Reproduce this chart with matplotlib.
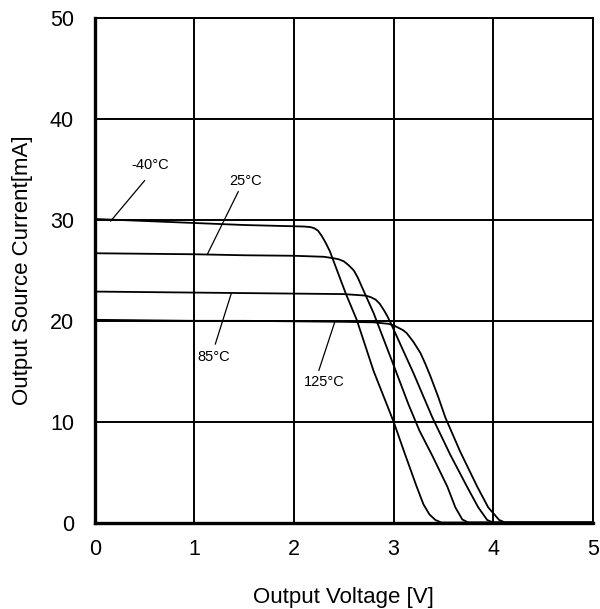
import matplotlib
matplotlib.use("Agg")
import matplotlib.pyplot as plt

plt.rcParams['font.family'] = ['Liberation Sans', 'DejaVu Sans']

# Output voltage [V] / output source current [mA] per temperature
v_m40 = [0, 0.5, 1.0, 1.5, 1.9, 2.10, 2.16, 2.20, 2.24, 2.28, 2.32, 2.36, 2.52, 2.63, 2.80, 3.00, 3.11, 3.23, 3.30, 3.36, 3.42, 3.48, 5.0]
i_m40 = [30.1, 29.9, 29.7, 29.5, 29.4, 29.35, 29.3, 29.2, 28.95, 28.4, 27.7, 26.9, 22.7, 20.1, 15.0, 10.0, 6.9, 3.6, 1.8, 0.8, 0.25, 0, 0]

v_25 = [0, 0.5, 1.0, 1.5, 2.0, 2.3, 2.40, 2.45, 2.50, 2.55, 2.60, 2.64, 2.68, 2.80, 3.0, 3.15, 3.26, 3.39, 3.54, 3.62, 3.69, 3.75, 5.0]
i_25 = [26.7, 26.65, 26.6, 26.5, 26.45, 26.35, 26.2, 26.1, 25.9, 25.5, 25.0, 24.3, 23.4, 20.75, 15.6, 11.7, 9.1, 6.6, 3.55, 1.5, 0.3, 0, 0]

v_85 = [0, 0.5, 1.0, 1.5, 2.0, 2.5, 2.72, 2.77, 2.82, 2.86, 2.90, 2.935, 2.97, 3.2, 3.39, 3.57, 3.74, 3.85, 3.94, 4.0, 5.0]
i_85 = [22.9, 22.85, 22.8, 22.75, 22.7, 22.65, 22.5, 22.35, 22.1, 21.7, 21.1, 20.5, 19.8, 14.8, 10.4, 6.7, 3.5, 1.5, 0.25, 0, 0]

v_125 = [0, 0.5, 1.0, 1.5, 2.0, 2.5, 2.8, 2.95, 3.0, 3.05, 3.09, 3.13, 3.20, 3.27, 3.32, 3.37, 3.45, 3.52, 3.67, 3.84, 3.95, 4.06, 4.12, 5.0]
i_125 = [20.1, 20.05, 20.0, 20.0, 19.95, 19.9, 19.85, 19.7, 19.55, 19.3, 19.1, 18.8, 17.9, 16.8, 15.7, 14.5, 12.4, 10.4, 7.0, 3.55, 1.5, 0.25, 0, 0]

labels = ['-40°C', '25°C', '85°C', '125°C']
# (text x, text y), leader start and leader end in data coords
label_text_pos = [(0.56, 35.5), (1.51, 33.9), (1.19, 16.4), (2.3, 13.9)]
label_line_start = [(0.50, 33.9), (1.44, 32.8), (1.21, 17.7), (2.25, 15.1)]
label_line_end = [(0.16, 29.9), (1.13, 26.6), (1.37, 22.7), (2.41, 19.9)]

xticks = [0, 1, 2, 3, 4, 5]
yticks = [0, 10, 20, 30, 40, 50]

fig = plt.figure(figsize=(6.0, 6.09), dpi=100)
ax = fig.add_axes([0.158, 0.142, 0.830, 0.828])

ax.set_xlim(0, 5)
ax.set_ylim(0, 50)
ax.set_xticks(xticks)
ax.set_yticks(yticks)
ax.grid(True, color='black', linewidth=1.4)
ax.set_axisbelow(True)
ax.tick_params(length=0, labelsize=15.5)
ax.tick_params(axis='x', pad=12)
ax.tick_params(axis='y', pad=15)

for s in ['left', 'bottom']:
    ax.spines[s].set_linewidth(2.4)
for s in ['top', 'right']:
    ax.spines[s].set_linewidth(1.4)

for v, i in [(v_m40, i_m40), (v_25, i_25), (v_85, i_85), (v_125, i_125)]:
    ax.plot(v, i, color='black', linewidth=1.3, solid_joinstyle='round')

for lab, tp, ls, le in zip(labels, label_text_pos, label_line_start, label_line_end):
    ax.text(tp[0], tp[1], lab, fontsize=10.5, ha='center', va='center')
    ax.plot([ls[0], le[0]], [ls[1], le[1]], color='black', linewidth=0.9)

ax.set_xlabel('Output Voltage [V]', fontsize=16, labelpad=19)
ax.set_ylabel('Output Source Current[mA]', fontsize=16, labelpad=12)

fig.savefig('out.png', dpi=100)
